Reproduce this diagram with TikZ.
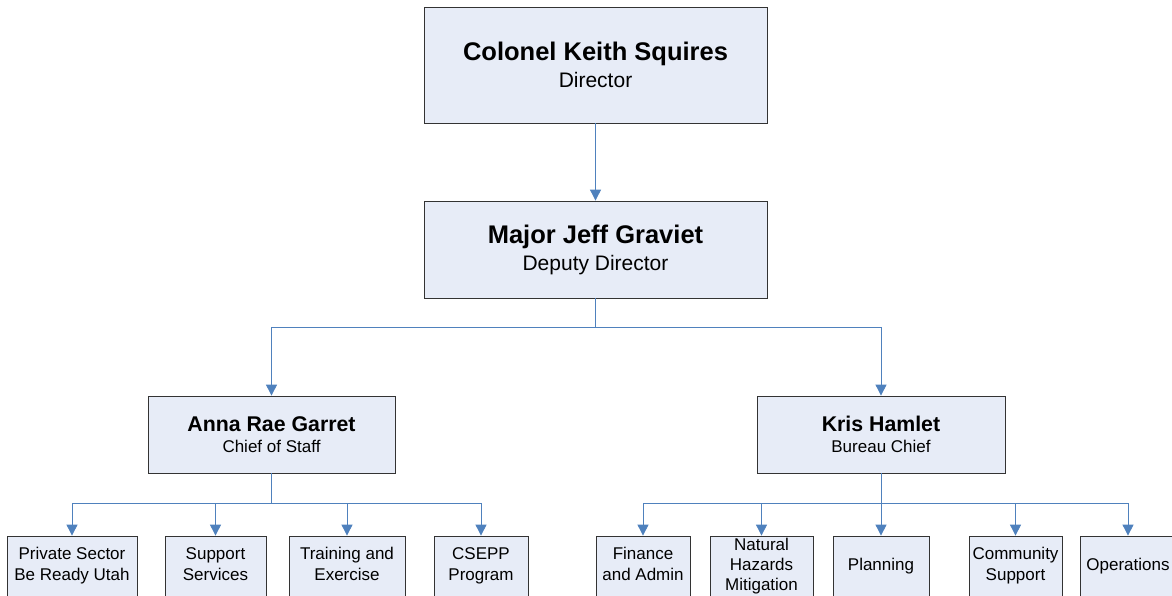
\documentclass[tikz,border=0pt]{standalone}
\usepackage{fontspec}
\setmainfont{Liberation Sans}
\usetikzlibrary{arrows.meta}

\definecolor{boxfill}{RGB}{231,236,247}
\definecolor{linkblue}{RGB}{79,129,189}

\begin{document}
\begin{tikzpicture}[x=1pt, y=-1pt,
    box/.style={draw=black!80, fill=boxfill, line width=0.8pt, align=center, inner sep=0pt},
    topbox/.style={box, minimum width=343, font=\fontsize{21}{27}\selectfont},
    midbox/.style={box, minimum height=77, font=\fontsize{17}{21}\selectfont},
    unitbox/.style={box, minimum height=60, font=\fontsize{17}{21}\selectfont},
    link/.style={draw=linkblue, line width=0.9pt},
    conn/.style={link, -{Triangle[width=11pt,length=11pt]}}]
    \useasboundingbox (0,0) rectangle (1172,595);
    \clip (0,0) rectangle (1172,595);

    % top of the chart
    \node[topbox, minimum height=116] (director) at (595.5,65) {{\fontsize{25.5}{27}\selectfont\bfseries Colonel Keith Squires}\\Director};
    \node[topbox, minimum height=97] (deputy) at (595.5,249.5) {{\fontsize{25.5}{27}\selectfont\bfseries Major Jeff Graviet}\\Deputy Director};
    \node[midbox, minimum width=247] (staff) at (271.5,434.5) {{\fontsize{21.3}{21}\selectfont\bfseries Anna Rae Garret}\\Chief of Staff};
    \node[midbox, minimum width=248] (bureau) at (881,434.5) {{\fontsize{21.3}{21}\selectfont\bfseries Kris Hamlet}\\Bureau Chief};

    % units under the chief of staff
    \node[unitbox, minimum width=130] (private) at (72,566) {\strut Private Sector\\\strut Be Ready Utah};
    \node[unitbox, minimum width=101] (support) at (215.5,566) {\strut Support\\\strut Services};
    \node[unitbox, minimum width=116] (training) at (347,566) {\strut Training and\\\strut Exercise};
    \node[unitbox, minimum width=94] (csepp) at (481,566) {\strut CSEPP\\\strut Program};

    % units under the bureau chief
    \node[unitbox, minimum width=94] (finance) at (643,566) {\strut Finance\\\strut and Admin};
    \node[unitbox, minimum width=103, font=\fontsize{17}{20}\selectfont] (hazards) at (761.5,566) {\strut Natural\\\strut Hazards\\\strut Mitigation};
    \node[unitbox, minimum width=96] (planning) at (881,566) {\strut Planning};
    \node[unitbox, minimum width=93] (community) at (1015.5,566) {\strut Community\\\strut Support};
    \node[unitbox, minimum width=96] (operations) at (1128,566) {\strut Operations};

    \coordinate (deputyfork) at (595.5,327);
    \coordinate (stafffork) at (271.5,503);
    \coordinate (bureaufork) at (881,503);

    \draw[conn] (director) -- (deputy);
    \draw[link] (deputy) -- (deputyfork);
    \draw[conn] (deputyfork) -| (staff);
    \draw[conn] (deputyfork) -| (bureau);

    \draw[link] (staff) -- (stafffork);
    \foreach \u in {private, support, training, csepp}
        \draw[conn] (stafffork) -| (\u);

    \draw[link] (bureau) -- (bureaufork);
    \foreach \u in {finance, hazards, planning, community, operations}
        \draw[conn] (bureaufork) -| (\u);
\end{tikzpicture}
\end{document}
